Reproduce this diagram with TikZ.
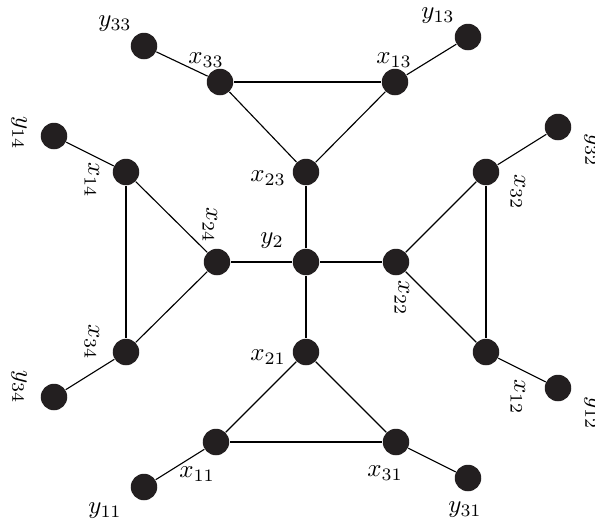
\documentclass[tikz,border=0pt]{standalone}
\definecolor{vfill}{HTML}{231F20}
\begin{document}
\begin{tikzpicture}[x=0.4pt,y=-0.4pt,
  vtx/.style={circle,fill=vfill,draw=none,minimum size=10.6pt,inner sep=0pt},
  edge/.style={line width=0.45pt,draw=black},
  lab/.style={inner sep=0pt},
  rlab/.style={inner sep=0pt,rotate=-90}]
\useasboundingbox (0,0) rectangle (595,523);
% vertices
\node[vtx] (y2)  at (306,262) {};
\node[vtx] (x24) at (217,262) {};
\node[vtx] (x22) at (396,262) {};
\node[vtx] (x23) at (306,172) {};
\node[vtx] (x21) at (306,352) {};
\node[vtx] (x33) at (220,82) {};
\node[vtx] (x13) at (395,82) {};
\node[vtx] (y33) at (144,46) {};
\node[vtx] (y13) at (468,37) {};
\node[vtx] (x14) at (126,172) {};
\node[vtx] (y14) at (54,136) {};
\node[vtx] (x34) at (126,352) {};
\node[vtx] (y34) at (54,397) {};
\node[vtx] (x11) at (216,442) {};
\node[vtx] (y11) at (144,487) {};
\node[vtx] (x31) at (396,442) {};
\node[vtx] (y31) at (468,478) {};
\node[vtx] (x32) at (486,172) {};
\node[vtx] (y32) at (558,127) {};
\node[vtx] (x12) at (486,352) {};
\node[vtx] (y12) at (558,388) {};
% edges
\draw[edge] (y2) -- (x24);
\draw[edge] (y2) -- (x22);
\draw[edge] (y2) -- (x23);
\draw[edge] (y2) -- (x21);
\draw[edge] (x23) -- (x33);
\draw[edge] (x23) -- (x13);
\draw[edge] (x33) -- (x13);
\draw[edge] (x33) -- (y33);
\draw[edge] (x13) -- (y13);
\draw[edge] (x24) -- (x14);
\draw[edge] (x24) -- (x34);
\draw[edge] (x14) -- (x34);
\draw[edge] (x14) -- (y14);
\draw[edge] (x34) -- (y34);
\draw[edge] (x22) -- (x32);
\draw[edge] (x22) -- (x12);
\draw[edge] (x32) -- (x12);
\draw[edge] (x32) -- (y32);
\draw[edge] (x12) -- (y12);
\draw[edge] (x21) -- (x11);
\draw[edge] (x21) -- (x31);
\draw[edge] (x11) -- (x31);
\draw[edge] (x11) -- (y11);
\draw[edge] (x31) -- (y31);
% labels
\node[lab] (ly33) at (115,24) {$y_{33}$};
\node[lab] (lx33) at (206,60) {$x_{33}$};
\node[lab] (ly13) at (438,16) {$y_{13}$};
\node[lab] (lx13) at (394,60) {$x_{13}$};
\node[lab] (lx23) at (268,178) {$x_{23}$};
\node[lab] (ly2)  at (272,241) {$y_2$};
\node[lab] (lx21) at (268,357) {$x_{21}$};
\node[lab] (lx11) at (197,474) {$x_{11}$};
\node[lab] (ly11) at (105,511) {$y_{11}$};
\node[lab] (lx31) at (385,473) {$x_{31}$};
\node[lab] (ly31) at (465,510) {$y_{31}$};
\node[rlab] (ly14) at (19,133) {$y_{14}$};
\node[rlab] (lx14) at (92,180) {$x_{14}$};
\node[rlab] (lx24) at (210,225) {$x_{24}$};
\node[rlab] (lx34) at (92,342) {$x_{34}$};
\node[rlab] (ly34) at (19,387) {$y_{34}$};
\node[rlab] (lx32) at (518,192) {$x_{32}$};
\node[rlab] (ly32) at (592,150) {$y_{32}$};
\node[rlab] (lx22) at (402,298) {$x_{22}$};
\node[rlab] (lx12) at (518,397) {$x_{12}$};
\node[rlab] (ly12) at (592,413) {$y_{12}$};
\end{tikzpicture}
\end{document}
